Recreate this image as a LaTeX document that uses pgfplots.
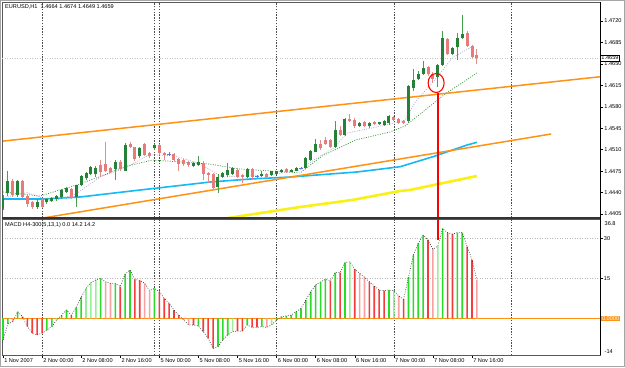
\documentclass[border=0pt]{standalone}
\usepackage{fontspec}
\setmainfont{Liberation Sans}
\usepackage{pgfplots}
\usepackage{pgfplotstable}
\pgfplotsset{compat=1.18}

\definecolor{bullbody}{RGB}{35,130,55}
\definecolor{bullwick}{RGB}{70,160,80}
\definecolor{bearbody}{RGB}{232,122,122}
\definecolor{bearwick}{RGB}{228,140,140}
\definecolor{dojic}{RGB}{90,120,230}
\definecolor{trend}{RGB}{255,145,20}
\definecolor{maBlue}{RGB}{20,185,245}
\definecolor{maYellow}{RGB}{250,240,20}
\definecolor{maGreen}{RGB}{60,150,60}
\definecolor{maLav}{RGB}{180,170,215}
\definecolor{mGc}{RGB}{40,220,40}
\definecolor{mLGc}{RGB}{150,240,150}
\definecolor{mRc}{RGB}{245,60,60}
\definecolor{mPc}{RGB}{250,160,160}
\definecolor{annoRed}{RGB}{255,0,0}

\newcommand{\tf}{\fontsize{5.6bp}{6.5bp}\selectfont}

\pgfplotstableread{
i o h l c
0 1.4415 1.4436 1.4412 1.4430
1 1.4439 1.4476 1.4434 1.4459
3 1.4436 1.4460 1.4433 1.4459
7 1.4417 1.4430 1.4413 1.4425
9 1.4424 1.4431 1.4422 1.4429
10 1.4427 1.4433 1.4425 1.4431
11 1.4429 1.4436 1.4427 1.4434
12 1.4432 1.4446 1.4430 1.4444
13 1.4441 1.4449 1.4440 1.4447
15 1.4432 1.4453 1.4417 1.4452
16 1.4452 1.4469 1.4450 1.4466
17 1.4463 1.4474 1.4461 1.4471
18 1.4470 1.4483 1.4468 1.4481
19 1.4470 1.4484 1.4465 1.4480
23 1.4479 1.4493 1.4461 1.4490
25 1.4476 1.4521 1.4475 1.4518
28 1.4499 1.4514 1.4496 1.4512
31 1.4512 1.4520 1.4510 1.4518
39 1.4484 1.4490 1.4481 1.4488
40 1.4485 1.4499 1.4483 1.4490
44 1.4449 1.4471 1.4440 1.4465
45 1.4465 1.4473 1.4463 1.4471
46 1.4468 1.4488 1.4466 1.4476
47 1.4471 1.4481 1.4469 1.4479
50 1.4466 1.4480 1.4464 1.4478
53 1.4467 1.4476 1.4466 1.4470
55 1.4469 1.4476 1.4467 1.4474
56 1.4471 1.4476 1.4470 1.4474
57 1.4474 1.4479 1.4472 1.4477
59 1.4474 1.4479 1.4473 1.4477
60 1.4476 1.4482 1.4475 1.4480
62 1.4480 1.4498 1.4479 1.4496
63 1.4493 1.4509 1.4491 1.4507
64 1.4507 1.4527 1.4506 1.4519
68 1.4514 1.4556 1.4512 1.4541
70 1.4534 1.4562 1.4532 1.4560
73 1.4549 1.4555 1.4547 1.4553
75 1.4548 1.4555 1.4546 1.4553
77 1.4552 1.4555 1.4550 1.4554
78 1.4551 1.4558 1.4549 1.4556
79 1.4553 1.4566 1.4551 1.4564
83 1.4556 1.4616 1.4554 1.4613
84 1.4610 1.4642 1.4606 1.4624
85 1.4625 1.4639 1.4623 1.4633
86 1.4634 1.4654 1.4632 1.4643
89 1.4628 1.4650 1.4612 1.4648
90 1.4648 1.4703 1.4646 1.4692
92 1.4666 1.4677 1.4664 1.4675
93 1.4677 1.4700 1.4657 1.4692
94 1.4692 1.4729 1.4690 1.4699
}\candBull

\pgfplotstableread{
i o h l c
2 1.4459 1.4462 1.4432 1.4436
4 1.4459 1.4460 1.4431 1.4432
5 1.4434 1.4436 1.4417 1.4422
6 1.4425 1.4427 1.4413 1.4416
8 1.4427 1.4429 1.4414 1.4417
14 1.4446 1.4448 1.4430 1.4432
20 1.4485 1.4493 1.4466 1.4474
21 1.4486 1.4523 1.4474 1.4476
22 1.4479 1.4481 1.4472 1.4474
24 1.4490 1.4493 1.4476 1.4479
26 1.4519 1.4523 1.4512 1.4515
27 1.4514 1.4515 1.4492 1.4494
29 1.4519 1.4521 1.4499 1.4501
30 1.4504 1.4507 1.4497 1.4499
32 1.4518 1.4519 1.4501 1.4504
33 1.4504 1.4507 1.4493 1.4502
35 1.4503 1.4505 1.4491 1.4493
36 1.4494 1.4496 1.4476 1.4487
37 1.4492 1.4494 1.4484 1.4487
38 1.4490 1.4492 1.4482 1.4485
41 1.4488 1.4491 1.4460 1.4470
42 1.4471 1.4473 1.4455 1.4468
43 1.4470 1.4472 1.4444 1.4448
48 1.4477 1.4480 1.4464 1.4466
49 1.4469 1.4470 1.4455 1.4466
51 1.4478 1.4480 1.4461 1.4465
54 1.4470 1.4472 1.4463 1.4465
58 1.4478 1.4480 1.4472 1.4474
65 1.4519 1.4526 1.4510 1.4512
66 1.4525 1.4530 1.4517 1.4519
67 1.4526 1.4528 1.4512 1.4514
69 1.4542 1.4548 1.4532 1.4534
71 1.4560 1.4569 1.4555 1.4557
72 1.4558 1.4561 1.4545 1.4548
74 1.4554 1.4556 1.4547 1.4549
76 1.4554 1.4556 1.4550 1.4552
80 1.4563 1.4565 1.4556 1.4558
81 1.4560 1.4562 1.4552 1.4554
82 1.4557 1.4558 1.4552 1.4554
87 1.4644 1.4646 1.4631 1.4633
88 1.4633 1.4637 1.4618 1.4625
91 1.4690 1.4693 1.4665 1.4666
95 1.4700 1.4703 1.4677 1.4679
96 1.4678 1.4681 1.4660 1.4662
97 1.4664 1.4674 1.4649 1.4659
}\candBear

\pgfplotstableread{
i o h l c
34 1.4503 1.4506 1.4499 1.4503
52 1.4467 1.4469 1.4464 1.4467
61 1.4480 1.4482 1.4478 1.4480
}\candDoji

\pgfplotstableread{
i v
0 -8.1
1 -2.1
3 2.5
9 -4.4
10 -3.1
12 1.2
13 3.1
15 4.1
16 7.9
20 15.0
23 13.1
25 16.6
26 18.1
31 11.2
40 -2.9
44 -10.6
45 -8.1
46 -6.2
50 -2.5
53 -3.1
56 -0.6
57 0.6
58 0.9
59 1.2
60 2.5
61 3.7
62 6.9
63 10.0
64 12.5
65 13.7
66 14.6
68 17.1
70 20.9
79 10.6
83 15.4
84 23.7
85 28.1
86 31.2
90 33.7
93 32.1
94 32.1
}\tabG

\pgfplotstableread{
i v
11 -0.6
17 11.2
18 13.4
19 14.4
47 -5.0
55 -2.5
71 21.2
80 10.4
89 27.1
}\tabLG

\pgfplotstableread{
i v
4 0.6
5 -3.1
6 -5.6
7 -6.2
8 -5.6
14 1.2
24 11.9
27 14.6
28 14.2
32 10.0
33 7.5
34 5.6
35 3.1
36 1.2
39 -2.5
41 -5.0
42 -7.5
43 -11.3
48 -4.8
49 -4.8
51 -3.4
52 -3.4
67 14.1
69 17.1
72 18.4
75 13.7
76 12.1
77 10.6
78 10.4
82 7.2
87 29.4
91 32.1
92 31.6
95 26.9
96 21.9
}\tabR

\pgfplotstableread{
i v
2 -1.3
21 13.7
22 13.1
29 13.1
30 10.4
37 -0.6
38 -2.5
54 -3.4
73 16.9
74 15.4
81 8.4
88 25.9
97 14.4
}\tabP

\pgfplotstableread{
i v
0 -8.1
1 -2.1
2 -1.3
3 2.5
4 0.6
5 -3.1
6 -5.6
7 -6.2
8 -5.6
9 -4.4
10 -3.1
11 -0.6
12 1.2
13 3.1
14 1.2
15 4.1
16 7.9
17 11.2
18 13.4
19 14.4
20 15.0
21 13.7
22 13.1
23 13.1
24 11.9
25 16.6
26 18.1
27 14.6
28 14.2
29 13.1
30 10.4
31 11.2
32 10.0
33 7.5
34 5.6
35 3.1
36 1.2
37 -0.6
38 -2.5
39 -2.5
40 -2.9
41 -5.0
42 -7.5
43 -11.3
44 -10.6
45 -8.1
46 -6.2
47 -5.0
48 -4.8
49 -4.8
50 -2.5
51 -3.4
52 -3.4
53 -3.1
54 -3.4
55 -2.5
56 -0.6
57 0.6
58 0.9
59 1.2
60 2.5
61 3.7
62 6.9
63 10.0
64 12.5
65 13.7
66 14.6
67 14.1
68 17.1
69 17.1
70 20.9
71 21.2
72 18.4
73 16.9
74 15.4
75 13.7
76 12.1
77 10.6
78 10.4
79 10.6
80 10.4
81 8.4
82 7.2
83 15.4
84 23.7
85 28.1
86 31.2
87 29.4
88 25.9
89 27.1
90 33.7
91 32.1
92 31.6
93 32.1
94 32.1
95 26.9
96 21.9
97 14.4
}\tabAll

\begin{document}
\begin{tikzpicture}[x=1bp,y=1bp]
\path[use as bounding box] (0,0) rectangle (625,367);
\fill[white] (0,0) rectangle (625,367);

% ---------------- main price window ----------------
\begin{axis}[
  at={(2bp,149.5bp)}, anchor=south west, scale only axis,
  width=598bp, height=215.5bp,
  xmin=-0.2, xmax=122.2, ymin=1.43993, ymax=1.47510,
  axis line style={draw=gray!70!black, line width=0.6bp},
  xtick={8,31,32,56,80,104}, xticklabels={}, xmajorgrids=true,
  major grid style={draw=black!70, line width=0.6bp, dash pattern=on 1.4bp off 1.4bp},
  ytick={1.4405,1.4440,1.4475,1.4510,1.4545,1.4580,1.4615,1.4650,1.4685,1.4720},
  yticklabels={1.4405,1.4440,1.4475,1.4510,1.4545,1.4580,1.4615,1.4650,1.4685,1.4720},
  ytick pos=right, yticklabel pos=right,
  tick align=outside, major tick length=3bp,
  tick style={draw=black, line width=0.5bp},
  xtick style={draw=none},
  every tick label/.append style={font=\tf},
  yticklabel style={inner sep=1.2bp},
]
% bid line
\addplot[gray!45, line width=0.5bp, dash pattern=on 1bp off 1.5bp] coordinates {(-0.2,1.4659) (122.2,1.4659)};
% moving averages
\addplot[maYellow, line width=2.6bp] coordinates {(44.5,1.43960) (46.1,1.43985) (60.8,1.44164) (71.5,1.44279) (81.3,1.44426) (83.3,1.44442) (97.0,1.44670)};
\addplot[maBlue, line width=1.6bp] coordinates {(0,1.44295) (8.2,1.44295) (15.8,1.44328) (28.1,1.44442) (42.4,1.44572) (50.6,1.44621) (58.8,1.44654) (72.5,1.44736) (81.3,1.44822) (88.0,1.44985) (95.0,1.45176) (97.0,1.45220)};
\addplot[maLav, line width=0.7bp, dash pattern=on 1bp off 1.4bp] coordinates {(0,1.4432) (5,1.4440) (10,1.4425) (15,1.4438) (20,1.4466) (25,1.4480) (30,1.4502) (35,1.4500) (40,1.4488) (45,1.4465) (50,1.4468) (55,1.4469) (60.8,1.4477) (64,1.4495) (67.6,1.4512) (70.4,1.4537) (76.5,1.4547) (82.3,1.4558) (84.4,1.4588) (88,1.4620) (92,1.4660) (96,1.4678)};
\addplot[maGreen, line width=0.7bp, dash pattern=on 1bp off 1.4bp] coordinates {(0,1.44409) (7.6,1.44344) (15.1,1.44524) (19.8,1.44659) (24.9,1.44822) (30.6,1.44931) (35.5,1.44904) (42.2,1.44866) (48.4,1.44785) (58.0,1.44736) (60.8,1.44720) (65.3,1.44996) (72.2,1.45258) (79.2,1.45388) (82.3,1.45486) (85.4,1.45682) (90.5,1.46009) (97.1,1.46356)};
% trend lines
\addplot[trend, line width=1.5bp] coordinates {(0,1.4524) (122.2,1.4629)};
\addplot[trend, line width=1.5bp] coordinates {(8.2,1.43985) (112.2,1.45356)};
% candles: wicks
\addplot[draw=none, mark=none, forget plot, error bars/.cd, y dir=plus, y explicit, error mark=none,
  error bar style={solid, line width=0.9bp, draw=bullwick}]
  table[x=i, y=l, y error plus expr=\thisrow{h}-\thisrow{l}] {\candBull};
\addplot[draw=none, mark=none, forget plot, error bars/.cd, y dir=plus, y explicit, error mark=none,
  error bar style={solid, line width=0.9bp, draw=bearwick}]
  table[x=i, y=l, y error plus expr=\thisrow{h}-\thisrow{l}] {\candBear};
\addplot[draw=none, mark=none, forget plot, error bars/.cd, y dir=plus, y explicit, error mark=none,
  error bar style={solid, line width=0.9bp, draw=dojic}]
  table[x=i, y=l, y error plus expr=\thisrow{h}-\thisrow{l}] {\candDoji};
% candles: bodies
\addplot[draw=none, mark=none, forget plot, error bars/.cd, y dir=plus, y explicit, error mark=none,
  error bar style={solid, line width=3bp, draw=bullbody}]
  table[x=i, y=o, y error plus expr=\thisrow{c}-\thisrow{o}+0.00004] {\candBull};
\addplot[draw=none, mark=none, forget plot, error bars/.cd, y dir=plus, y explicit, error mark=none,
  error bar style={solid, line width=3bp, draw=bearbody}]
  table[x=i, y=c, y error plus expr=\thisrow{o}-\thisrow{c}+0.00004] {\candBear};
\addplot[only marks, mark=-, mark size=1.6bp, dojic, mark options={line width=0.9bp}] table[x=i, y=c] {\candDoji};
% annotation circle and line
\draw[draw=annoRed, line width=1.1bp] (axis cs:88.66,1.46188) ellipse [x radius=8bp, y radius=9.5bp];
\draw[draw=annoRed, line width=2bp] (axis cs:88.97,1.46025) -- (axis cs:88.97,1.4380);
\end{axis}

\draw[gray!40!black, line width=2bp] (2,148.75) -- (600,148.75);

% ---------------- MACD window ----------------
\begin{axis}[
  at={(2bp,12bp)}, anchor=south west, scale only axis,
  width=598bp, height=136bp,
  xmin=-0.2, xmax=122.2, ymin=-13.76, ymax=37.23,
  axis line style={draw=gray!70!black, line width=0.6bp},
  xtick={0,8,16,24,32,40,48,56,64,72,80,88,96},
  xticklabels={1 Nov 2007, 2 Nov 00:00, 2 Nov 08:00, 2 Nov 16:00, 5 Nov 00:00, 5 Nov 08:00, 5 Nov 16:00, 6 Nov 00:00, 6 Nov 08:00, 6 Nov 16:00, 7 Nov 00:00, 7 Nov 08:00, 7 Nov 16:00},
  xtick pos=left,
  xticklabel style={anchor=north west, inner sep=0.8bp, xshift=0.3bp},
  ytick={15,30}, yticklabels={15,30},
  ytick pos=right, yticklabel pos=right,
  ymajorgrids=true,
  major grid style={draw=gray!55, line width=0.5bp, dash pattern=on 1bp off 1.5bp},
  tick align=outside, major tick length=2.5bp,
  tick style={draw=black, line width=0.5bp},
  every tick label/.append style={font=\tf},
  yticklabel style={inner sep=1.2bp},
]
\pgfplotsinvokeforeach{8,31,32,56,80,104}{
  \draw[black!70, line width=0.6bp, dash pattern=on 1.4bp off 1.4bp] (axis cs:#1,-13.76) -- (axis cs:#1,37.23);
}
\addplot[trend, line width=0.9bp] coordinates {(-0.2,0) (122.2,0)};
\addplot[ybar, bar width=1.6bp, bar shift=0pt, fill=mGc, draw=none, forget plot] table[x=i, y=v] {\tabG};
\addplot[ybar, bar width=1.6bp, bar shift=0pt, fill=mLGc, draw=none, forget plot] table[x=i, y=v] {\tabLG};
\addplot[ybar, bar width=1.6bp, bar shift=0pt, fill=mRc, draw=none, forget plot] table[x=i, y=v] {\tabR};
\addplot[ybar, bar width=1.6bp, bar shift=0pt, fill=mPc, draw=none, forget plot] table[x=i, y=v] {\tabP};
\addplot[black!80, line width=0.6bp, dash pattern=on 0.8bp off 1.6bp] table[x=i, y=v] {\tabAll};
\draw[draw=annoRed, line width=2bp] (axis cs:88.97,40) -- (axis cs:88.97,29.4);
\end{axis}

% frames
\draw[black, line width=0.8bp] (600,12) -- (600,365);
\draw[gray!70, line width=1bp] (0.5,0.5) rectangle (624.5,366.5);

% texts
\node[anchor=west, inner sep=0pt, font=\tf] at (5,360) {EURUSD,H1\ \ 1.4664 1.4674 1.4649 1.4659};
\node[anchor=west, inner sep=0pt, font=\tf] at (5,142) {MACD H4-300(5,13,1) 0.0 14.2 14.2};
\node[anchor=west, draw=black, fill=white, line width=0.5bp, inner sep=0.8bp, font=\tf] at (600.4,309) {1.4659};
\node[anchor=west, inner sep=0pt, font=\tf] at (604.5,143) {36.8};
\node[anchor=west, fill=trend, text=white, inner sep=0.8bp, font=\tf] at (601,48.7) {0.0000};
\node[anchor=west, inner sep=0pt, font=\tf] at (604.5,15) {-14};
\end{tikzpicture}
\end{document}
